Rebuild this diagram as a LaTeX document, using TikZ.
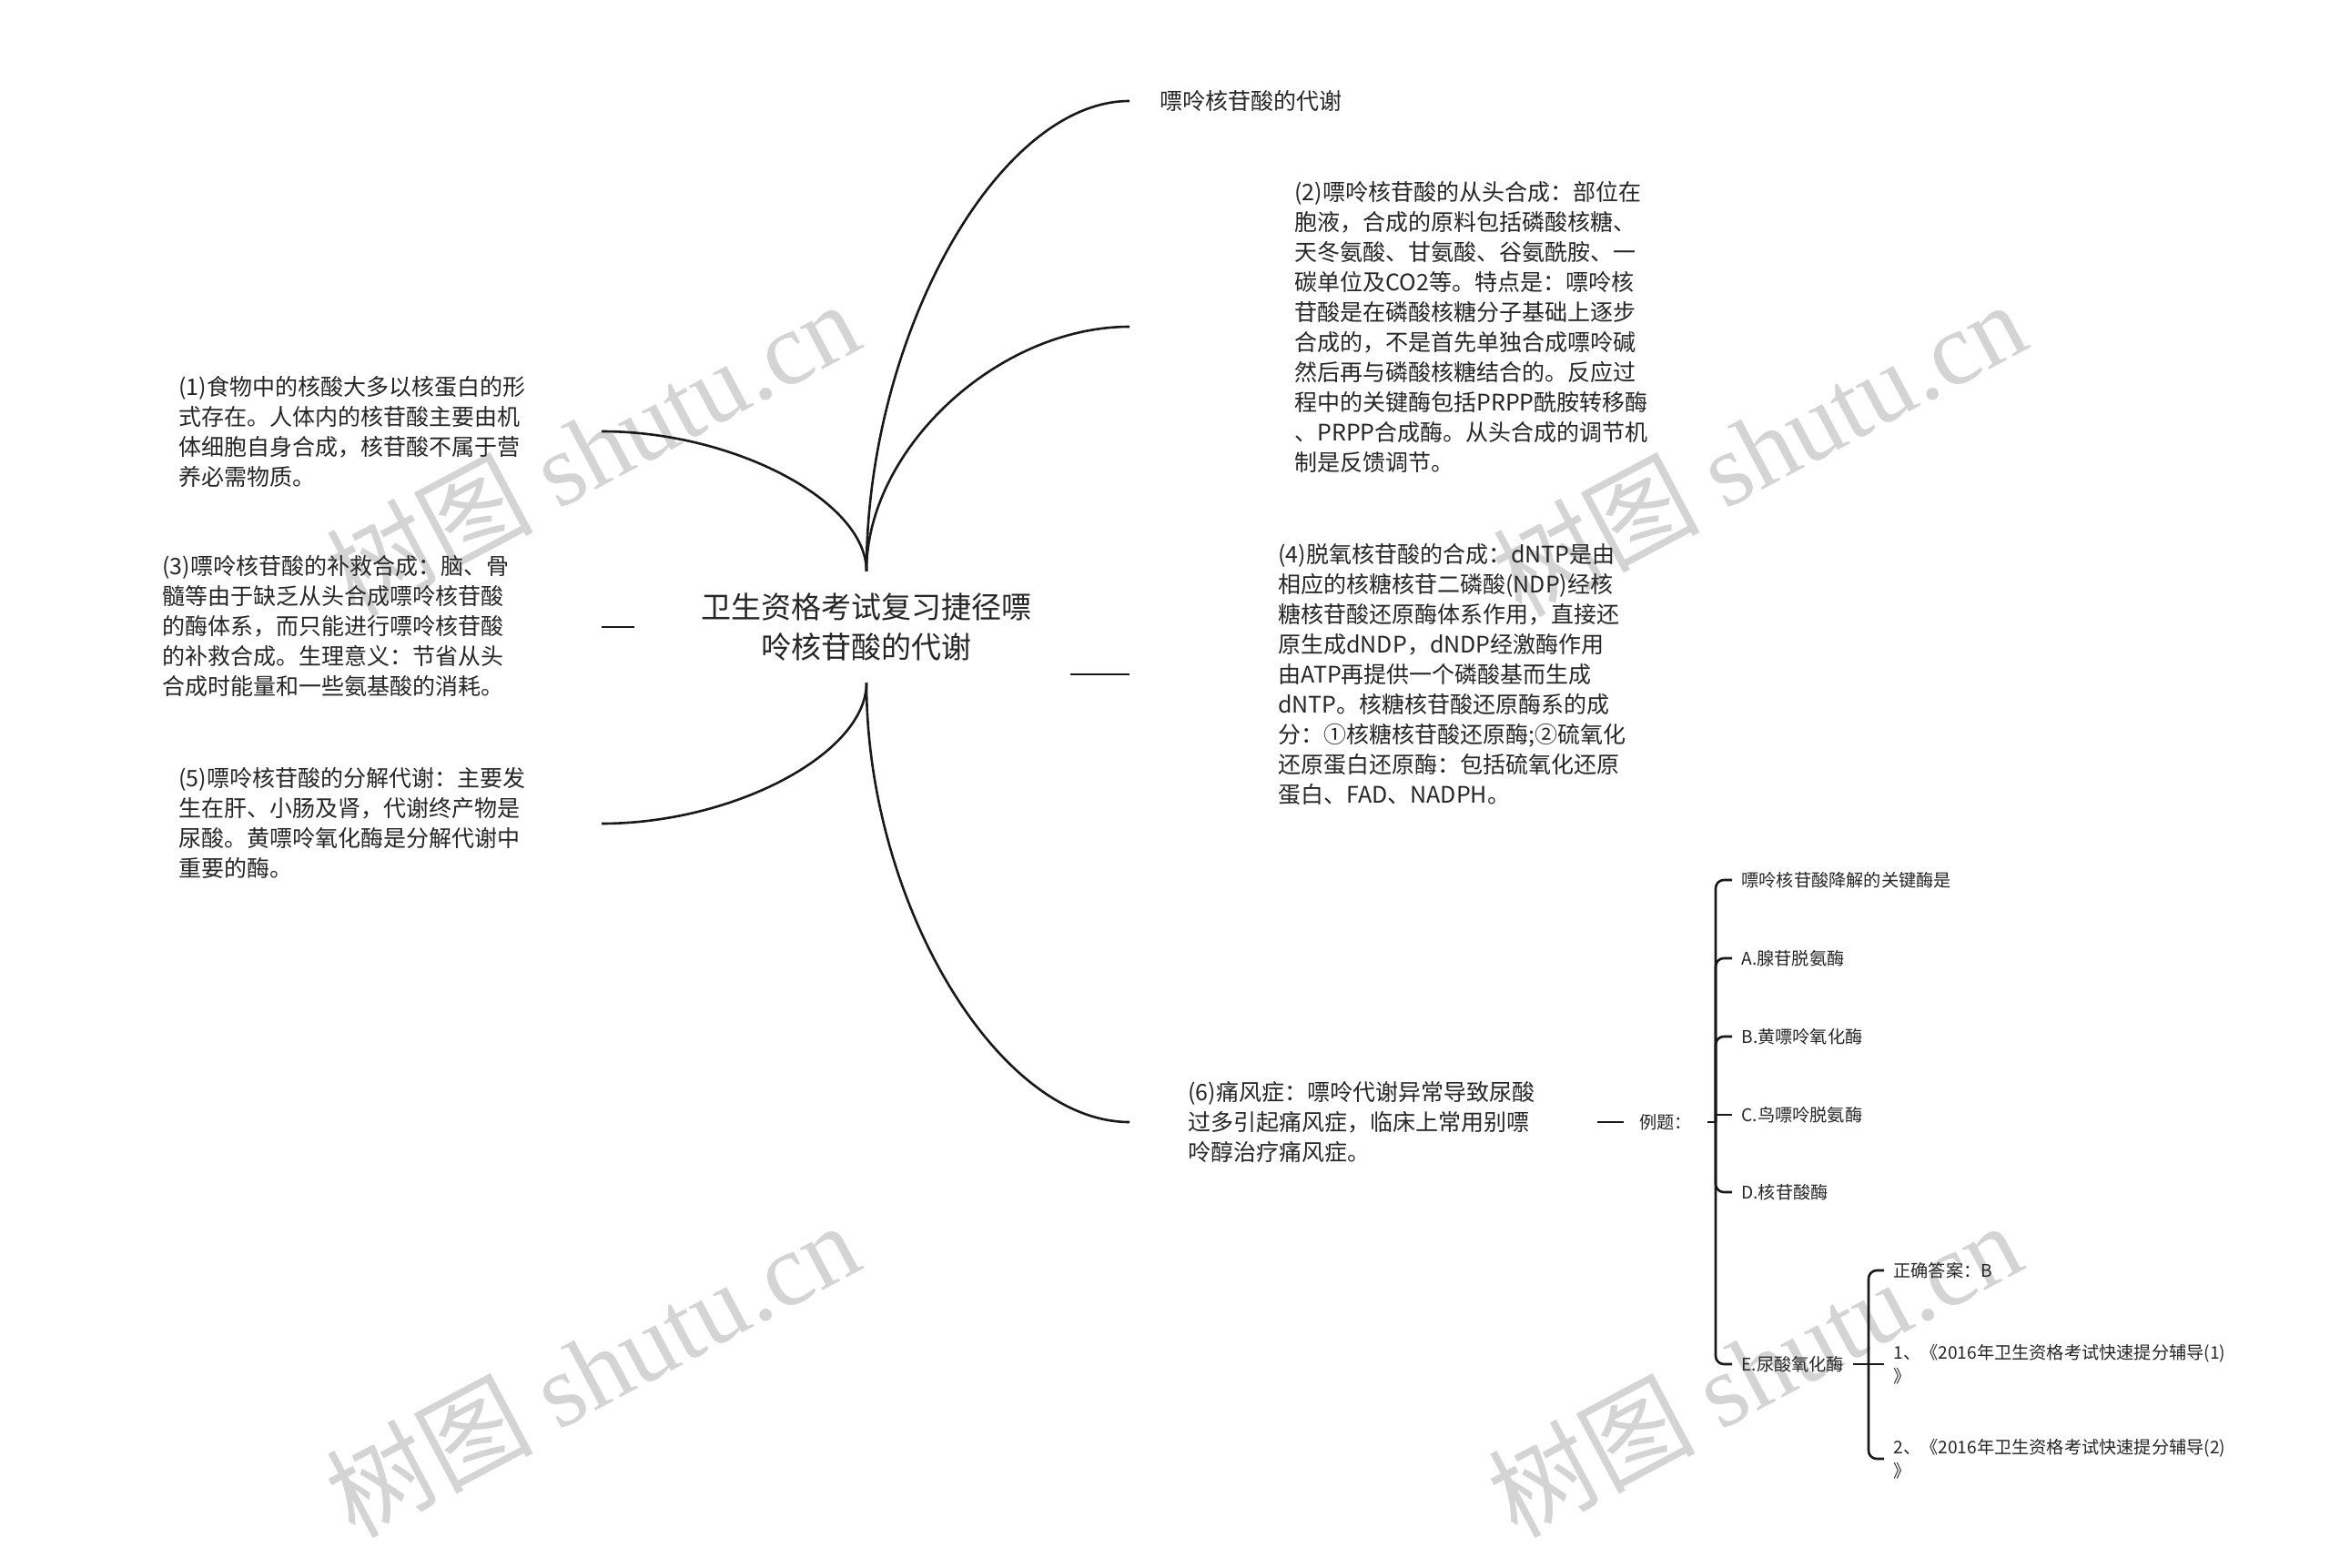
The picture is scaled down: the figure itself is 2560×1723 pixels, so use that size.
\documentclass[tikz,border=0pt]{standalone}
\usepackage{fontspec}
\setmainfont{Noto Sans CJK SC}
\newfontfamily\wmlatin{Liberation Serif}
\usetikzlibrary{calc}
\newcommand\mmcurve[2]{\draw[conn] (#1) .. controls ($(#1)!0.5!(#1 |- #2)$) and ($(#2)!0.5!(#1 |- #2)$) .. (#2);}
\begin{document}
\begin{tikzpicture}[x=0.5pt,y=-0.5pt,
  conn/.style={line width=1.3pt, draw=black!90},
  body/.style={anchor=west, inner sep=0pt, align=left, font=\fontsize{12.5pt}{16.5pt}\selectfont, text=black!85},
  small/.style={anchor=west, inner xsep=5pt, inner ysep=0pt, align=left, font=\fontsize{9.6pt}{13pt}\selectfont, text=black!85},
  wm/.style={text=black!17, rotate=28, font=\fontsize{57pt}{60pt}\selectfont, inner sep=0pt}
]
\useasboundingbox (0,0) rectangle (2560,1723);
\fill[white] (0,0) rectangle (2560,1723);

% watermarks
\node[wm] (wm1) at (650,492) {树图 {\wmlatin shutu.cn}};
\node[wm] (wm2) at (1932,492) {树图 {\wmlatin shutu.cn}};
\node[wm] (wm3) at (650,1504) {树图 {\wmlatin shutu.cn}};
\node[wm] (wm4) at (1927,1504) {树图 {\wmlatin shutu.cn}};

% root
\node[font=\fontsize{16.5pt}{22pt}\selectfont, align=center, text=black!85,
      minimum width=255pt, minimum height=61pt, inner sep=0pt] (root) at (952,689)
  {卫生资格考试复习捷径嘌\\呤核苷酸的代谢};

% right side
\node[body] (t0) at (1274,111) {嘌呤核苷酸的代谢};
\node[body] (t2) at (1422,359) {(2)嘌呤核苷酸的从头合成：部位在\\胞液，合成的原料包括磷酸核糖、\\天冬氨酸、甘氨酸、谷氨酰胺、一\\碳单位及CO2等。特点是：嘌呤核\\苷酸是在磷酸核糖分子基础上逐步\\合成的，不是首先单独合成嘌呤碱\\然后再与磷酸核糖结合的。反应过\\程中的关键酶包括PRPP酰胺转移酶\\、PRPP合成酶。从头合成的调节机\\制是反馈调节。};
\node[body] (t4) at (1404,741) {(4)脱氧核苷酸的合成：dNTP是由\\相应的核糖核苷二磷酸(NDP)经核\\糖核苷酸还原酶体系作用，直接还\\原生成dNDP，dNDP经激酶作用\\由ATP再提供一个磷酸基而生成\\dNTP。核糖核苷酸还原酶系的成\\分：①核糖核苷酸还原酶;②硫氧化\\还原蛋白还原酶：包括硫氧化还原\\蛋白、FAD、NADPH。};
\node[body] (t6) at (1305,1233) {(6)痛风症：嘌呤代谢异常导致尿酸\\过多引起痛风症，临床上常用别嘌\\呤醇治疗痛风症。};

% left side
\node[body] (t1) at (196,474) {(1)食物中的核酸大多以核蛋白的形\\式存在。人体内的核苷酸主要由机\\体细胞自身合成，核苷酸不属于营\\养必需物质。};
\node[body] (t3) at (178,688) {(3)嘌呤核苷酸的补救合成：脑、骨\\髓等由于缺乏从头合成嘌呤核苷酸\\的酶体系，而只能进行嘌呤核苷酸\\的补救合成。生理意义：节省从头\\合成时能量和一些氨基酸的消耗。};
\node[body] (t5) at (196,904) {(5)嘌呤核苷酸的分解代谢：主要发\\生在肝、小肠及肾，代谢终产物是\\尿酸。黄嘌呤氧化酶是分解代谢中\\重要的酶。};

% connector ends
\coordinate (e0) at (1241,111);
\coordinate (e2) at (1241,359);
\coordinate (e6) at (1241,1233);
\coordinate (e1) at (661,474);
\coordinate (e5) at (661,905);
\coordinate (s3a) at (661,689);
\coordinate (s3b) at (697,689);
\coordinate (s4a) at (1176,741);
\coordinate (s4b) at (1241,741);

\mmcurve{root.north}{e0}
\mmcurve{root.north}{e2}
\mmcurve{root.north}{e1}
\mmcurve{root.south}{e5}
\mmcurve{root.south}{e6}
\draw[conn] (s3a) -- (s3b);
\draw[conn] (s4a) -- (s4b);

% example sub-tree
\node[small, inner xsep=8.5pt] (ex) at (1784,1233) {例题：};
\coordinate (s6) at (1755,1233);
\draw[conn] (s6) -- (ex.west);
\coordinate (exr) at (1885,1233);
\draw[conn] (ex.east) -- (exr);

\node[small] (q) at (1903,967) {嘌呤核苷酸降解的关键酶是};
\node[small] (a) at (1903,1053) {A.腺苷脱氨酶};
\node[small] (b) at (1903,1139) {B.黄嘌呤氧化酶};
\node[small] (c) at (1903,1225) {C.鸟嘌呤脱氨酶};
\node[small] (d) at (1903,1310) {D.核苷酸酶};
\node[small] (e) at (1903,1499) {E.尿酸氧化酶};

\draw[conn, rounded corners=4.5pt] (q.west) -| (exr) |- (e.west);
\draw[conn, rounded corners=4.5pt] (exr) |- (a.west);
\draw[conn, rounded corners=4.5pt] (exr) |- (b.west);
\draw[conn] (exr |- c.west) -- (c.west);
\draw[conn, rounded corners=4.5pt] (exr) |- (d.west);

\coordinate (ejr) at (2053,1499);
\draw[conn] (e.east) -- (ejr);
\node[small] (ans) at (2070,1396) {正确答案：B};
\node[small] (r1) at (2070,1499) {1、《2016年卫生资格考试快速提分辅导(1)\\》};
\node[small] (r2) at (2070,1603) {2、《2016年卫生资格考试快速提分辅导(2)\\》};
\draw[conn, rounded corners=4.5pt] (ans.west) -| (ejr) |- (r2.west);
\draw[conn] (ejr) -- (r1.west);
\end{tikzpicture}
\end{document}
